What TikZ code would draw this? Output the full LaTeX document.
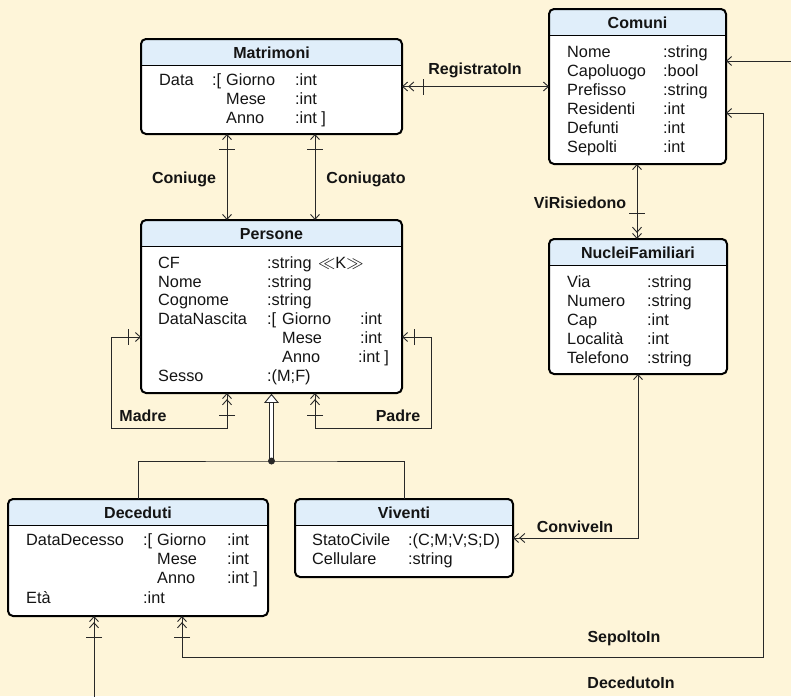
\documentclass[tikz,border=0pt]{standalone}
\usepackage{fontspec}
\setmainfont{Liberation Sans}
\usetikzlibrary{arrows.meta,decorations.markings,calc}
\definecolor{bgc}{RGB}{254,245,217}
\definecolor{hdr}{RGB}{224,238,250}
\definecolor{lnc}{RGB}{40,40,40}
\definecolor{txc}{RGB}{20,20,20}
\newcounter{tn}
\newcommand\txt[3]{\stepcounter{tn}\node[anchor=base west] (t\thetn) at (#1,#2) {#3};}
\newcommand\lbl[3]{\stepcounter{tn}\node[anchor=base,font=\fontsize{16}{19}\selectfont\bfseries] (l\thetn) at (#1,#2) {#3};}
\newcommand\mybox[6]{%
 \node[minimum width=#4pt,minimum height=#5pt,anchor=north west,inner sep=0pt,outer sep=0pt] (#1) at (#2,#3) {};
 \begin{scope}
 \clip[rounded corners=5pt] (#1.north west) rectangle (#1.south east);
 \fill[white] (#1.north west) rectangle (#1.south east);
 \fill[hdr] (#1.north west) rectangle ([yshift=-26.5pt]#1.north east);
 \end{scope}
 \draw[line width=1.3pt] ([yshift=-26.5pt]#1.north west) -- ([yshift=-26.5pt]#1.north east);
 \draw[line width=2pt,rounded corners=5pt] (#1.north west) rectangle (#1.south east);
 \node[anchor=base,font=\fontsize{16}{19}\selectfont\bfseries] (#1-title) at ([yshift=-19.5pt]#1.north) {#6};
}
\tikzset{
 tS/.tip={Straight Barb[length=5pt,width=9pt]},
 tD/.tip={Straight Barb[length=5pt,width=9pt] Straight Barb[length=5pt,width=9pt]},
 conn/.style={draw=lnc,line width=0.9pt},
 barat/.style={postaction={decorate,decoration={markings,mark=at position #1 with {\draw[-,draw=lnc,line width=0.9pt] (0,-8pt) -- (0,8pt);}}}}
}
\begin{document}
\begin{tikzpicture}[x=1pt,y=-1pt,every node/.style={font=\fontsize{16.3}{19}\selectfont,inner sep=0pt,text=txc}]
\useasboundingbox (0,0) rectangle (791,696);
\clip (0,0) rectangle (791,696);
\fill[bgc] (0,0) rectangle (791,696);

% boxes
\mybox{matr}{141}{39}{261}{95}{Matrimoni}
\mybox{comuni}{549}{9}{177}{155}{Comuni}
\mybox{pers}{141}{220}{261}{173}{Persone}
\mybox{nf}{549}{239}{178}{135}{NucleiFamiliari}
\mybox{dec}{8}{499}{260}{117}{Deceduti}
\mybox{viv}{295}{499}{218}{78}{Viventi}

% Matrimoni
\txt{159}{85}{Data} \txt{212}{85}{:[} \txt{226}{85}{Giorno} \txt{295}{85}{:int}
\txt{226}{104}{Mese} \txt{295}{104}{:int}
\txt{226}{123}{Anno} \txt{295}{123}{:int ]}

% Comuni
\txt{567}{57}{Nome} \txt{663}{57}{:string}
\txt{567}{76}{Capoluogo} \txt{663}{76}{:bool}
\txt{567}{95}{Prefisso} \txt{663}{95}{:string}
\txt{567}{114}{Residenti} \txt{663}{114}{:int}
\txt{567}{133}{Defunti} \txt{663}{133}{:int}
\txt{567}{152}{Sepolti} \txt{663}{152}{:int}

% Persone
\txt{158}{268}{CF} \txt{267}{268}{:string} \txt{318}{268}{$\ll$K$\gg$}
\txt{158}{287}{Nome} \txt{267}{287}{:string}
\txt{158}{305}{Cognome} \txt{267}{305}{:string}
\txt{158}{324}{DataNascita} \txt{267}{324}{:[} \txt{282}{324}{Giorno} \txt{360}{324}{:int}
\txt{282}{343}{Mese} \txt{360}{343}{:int}
\txt{282}{362}{Anno} \txt{358}{362}{:int ]}
\txt{158}{381}{Sesso} \txt{267}{381}{:(M;F)}

% NucleiFamiliari
\txt{567}{287}{Via} \txt{647}{287}{:string}
\txt{567}{306}{Numero} \txt{647}{306}{:string}
\txt{567}{325}{Cap} \txt{647}{325}{:int}
\txt{567}{344}{Località} \txt{647}{344}{:int}
\txt{567}{363}{Telefono} \txt{647}{363}{:string}

% Deceduti
\txt{26}{545}{DataDecesso} \txt{143}{545}{:[} \txt{157}{545}{Giorno} \txt{227}{545}{:int}
\txt{157}{564}{Mese} \txt{227}{564}{:int}
\txt{157}{583}{Anno} \txt{227}{583}{:int ]}
\txt{26}{603}{Età} \txt{143}{603}{:int}

% Viventi
\txt{312}{545}{StatoCivile} \txt{408}{545}{:(C;M;V;S;D)}
\txt{312}{564}{Cellulare} \txt{408}{564}{:string}

% connectors
\draw[conn,{tD}-{tS},barat=21pt] (matr.east) -- (matr.east -| comuni.west);
\draw[conn,{tS}-{tS},barat=15pt] ([xshift=86pt]matr.south west) -- ([xshift=86pt]pers.north west);
\draw[conn,{tS}-{tS},barat=15pt] ([xshift=174pt]matr.south west) -- ([xshift=174pt]pers.north west);
\draw[conn,{tS}-{tD},barat=-26pt] ([xshift=88pt]comuni.south west) -- ([xshift=88pt]nf.north west);
\draw[conn,{tS}-{tD},barat=13pt,barat=-22pt] ([yshift=-117pt]pers.north west) -- ++(-30,0) |- ([xshift=86pt,yshift=-35pt]pers.south west) -- ([xshift=86pt]pers.south west);
\draw[conn,{tS}-{tD},barat=12pt,barat=-22pt] ([yshift=-117pt]pers.north east) -- ++(29,0) |- ([xshift=174pt,yshift=-35pt]pers.south west) -- ([xshift=174pt]pers.south west);
\draw[conn,{tS}-{tD}] (nf.south) |- (viv.east);
\draw[conn,{tS}-{tD},barat=-21pt] ([yshift=-104pt]comuni.north east) -- ++(37,0) |- ([xshift=44pt,yshift=-41pt]dec.south) -- ([xshift=44pt]dec.south);
\coordinate (dA) at (800,61);
\coordinate (dB) at (94,705);
\draw[conn,{tS}-] ([yshift=-52pt]comuni.north east) -- (dA);
\draw[conn,-{tD},barat=-21pt] (dB) -- ([xshift=-44pt]dec.south);

% ISA
\coordinate (isa) at ([yshift=-68pt]pers.south);
\draw[conn] (dec.north) |- (isa) -| (viv.north);
\draw[draw=lnc,line width=0.9pt,double=white,double distance=3.5pt] (isa) -- ([yshift=-9pt]pers.south);
\draw[draw=lnc,line width=0.9pt,fill=white,line join=miter] ([yshift=-1.5pt]pers.south) -- ++(-6.5,8) -- ++(13,0) -- cycle;
\fill[lnc] (isa) circle (3.5pt);

% labels
\lbl{475}{74}{RegistratoIn}
\lbl{184}{183}{Coniuge}
\lbl{366}{183}{Coniugato}
\lbl{580}{208}{ViRisiedono}
\lbl{143}{421}{Madre}
\lbl{398}{421}{Padre}
\lbl{575}{532}{ConviveIn}
\lbl{624}{642}{SepoltoIn}
\lbl{631}{688}{DecedutoIn}
\end{tikzpicture}
\end{document}
